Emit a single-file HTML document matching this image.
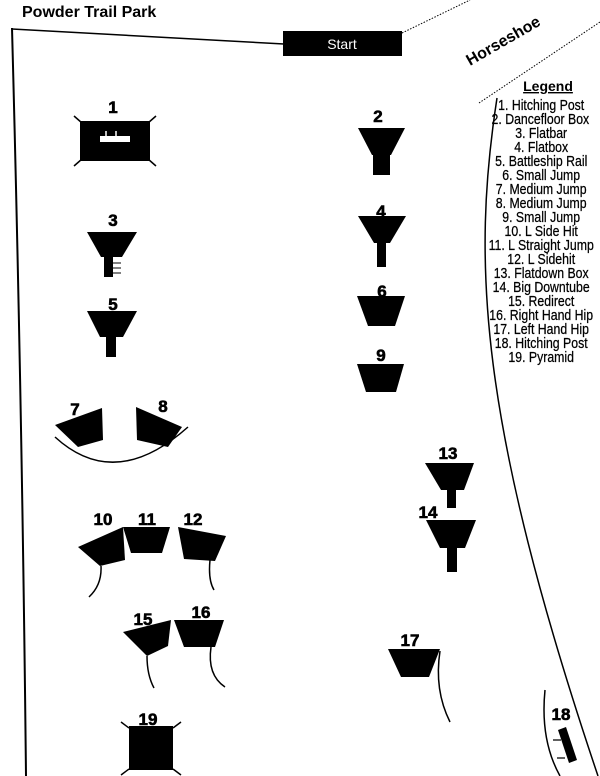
<!DOCTYPE html>
<html><head><style>body{margin:0;background:#fff}svg{display:block}</style></head><body>
<svg width="600" height="776" viewBox="0 0 600 776" xmlns="http://www.w3.org/2000/svg" font-family="Liberation Sans, sans-serif">
<rect width="600" height="776" fill="#fff"/>
<text x="22" y="17" font-size="16" font-weight="bold">Powder Trail Park</text>
<path d="M12,28 Q22,400 26,776" fill="none" stroke="#000" stroke-width="2"/>
<path d="M12,29 L284,44" stroke="#000" stroke-width="1.5"/>
<rect x="283" y="31" width="119" height="25" fill="#000"/>
<text x="342" y="49" font-size="14" fill="#fff" text-anchor="middle">Start</text>
<path d="M402,33 L470,0" stroke="#000" stroke-dasharray="1.5,1.5"/>
<path d="M479,103 L600,22" stroke="#000" stroke-dasharray="1.5,1.5"/>
<text x="0" y="0" font-size="16" font-weight="bold" transform="translate(470,66) rotate(-30)">Horseshoe</text>
<path d="M497,98 C472,260 478,420 598,776" fill="none" stroke="#000" stroke-width="1.5"/>
<text x="548" y="91" font-size="14" font-weight="bold" text-anchor="middle" text-decoration="underline">Legend</text>
<g font-size="15" text-anchor="middle" transform="scale(0.82,1)" stroke="#000" stroke-width="0.25">
<text x="660" y="110">1. Hitching Post</text>
<text x="659" y="124">2. Dancefloor Box</text>
<text x="660" y="138">3. Flatbar</text>
<text x="660" y="152">4. Flatbox</text>
<text x="660" y="166">5. Battleship Rail</text>
<text x="660" y="180">6. Small Jump</text>
<text x="660" y="194">7. Medium Jump</text>
<text x="660" y="208">8. Medium Jump</text>
<text x="660" y="222">9. Small Jump</text>
<text x="660" y="236">10. L Side Hit</text>
<text x="660" y="250">11. L Straight Jump</text>
<text x="660" y="264">12. L Sidehit</text>
<text x="660" y="278">13. Flatdown Box</text>
<text x="660" y="292">14. Big Downtube</text>
<text x="660" y="306">15. Redirect</text>
<text x="660" y="320">16. Right Hand Hip</text>
<text x="660" y="334">17. Left Hand Hip</text>
<text x="660" y="348">18. Hitching Post</text>
<text x="660" y="362">19. Pyramid</text>
</g>
<g fill="#000">
<rect x="80" y="121" width="70" height="40"/>
<rect x="100" y="136" width="30" height="6" fill="#fff"/>
<path d="M106,136v-5M116,136v-5" stroke="#fff" stroke-width="1.5"/>
<path d="M74,116L82,123M156,116L148,123M74,166L82,159M156,166L148,159M129,728L121,722M173,728L181,722M129,769L121,775M173,769L181,775" stroke="#000" stroke-width="1.5"/>
<polygon points="358,128 405,128 391,155 372,155"/><rect x="373" y="154" width="17" height="21"/>
<polygon points="358,216 406,216 390,243 374,243"/><rect x="377" y="242" width="9" height="25"/>
<polygon points="357,296 405,296 395,326 368,326"/>
<polygon points="357,364 404,364 396,392 366,392"/>
<polygon points="87,232 137,232 122,257 101,257"/><rect x="104" y="256" width="9" height="21"/>
<path d="M113,263h8M113,268h8M113,273h8" stroke="#000" stroke-width="1"/>
<polygon points="87,311 137,311 123,337 100,337"/><rect x="106" y="336" width="10" height="21"/>
<polygon points="55,425 102,408 103,440 78,447"/>
<polygon points="136,407 182,427 168,447 137,440"/>
<path d="M55,437 Q115,492 188,427" fill="none" stroke="#000" stroke-width="1.5"/>
<polygon points="78,547 123,527 125,560 100,566"/>
<polygon points="123,527 170,527 162,553 131,553"/>
<polygon points="178,527 226,536 215,561 184,559"/>
<path d="M101,566 Q102,585 89,597M210,560 Q208,580 214,590" fill="none" stroke="#000" stroke-width="1.5"/>
<polygon points="123,632 171,620 168,646 147,656"/>
<polygon points="174,620 224,620 215,647 184,647"/>
<path d="M147,656 Q147,675 154,688M211,647 Q207,675 225,687" fill="none" stroke="#000" stroke-width="1.5"/>
<polygon points="425,463 474,463 464,490 441,490"/><rect x="447" y="489" width="9" height="19"/>
<polygon points="426,520 476,520 465,548 440,548"/><rect x="447" y="547" width="10" height="25"/>
<polygon points="388,649 440,649 429,677 401,677"/>
<path d="M440,651 Q434,690 450,722" fill="none" stroke="#000" stroke-width="1.5"/>
<path d="M545,690 Q540,740 560,776" fill="none" stroke="#000" stroke-width="1.5"/>
<polygon points="558,730 566,727 577,760 569,763"/>
<path d="M553,740h8M557,758h8" stroke="#000" stroke-width="1.2"/>
<rect x="129" y="726" width="44" height="44"/>
</g>
<g font-size="17" font-weight="bold" text-anchor="middle" stroke="#000" stroke-width="0.6">
<text x="113" y="113">1</text><text x="378" y="122">2</text><text x="113" y="226">3</text>
<text x="381" y="217">4</text><text x="113" y="310">5</text><text x="382" y="297">6</text>
<text x="381" y="361">9</text><text x="75" y="415">7</text><text x="163" y="412">8</text>
<text x="103" y="525">10</text><text x="147" y="525">11</text><text x="193" y="525">12</text>
<text x="448" y="459">13</text><text x="428" y="518">14</text><text x="143" y="625">15</text>
<text x="201" y="618">16</text><text x="410" y="646">17</text><text x="561" y="720">18</text>
<text x="148" y="725">19</text>
</g>
</svg>
</body></html>
